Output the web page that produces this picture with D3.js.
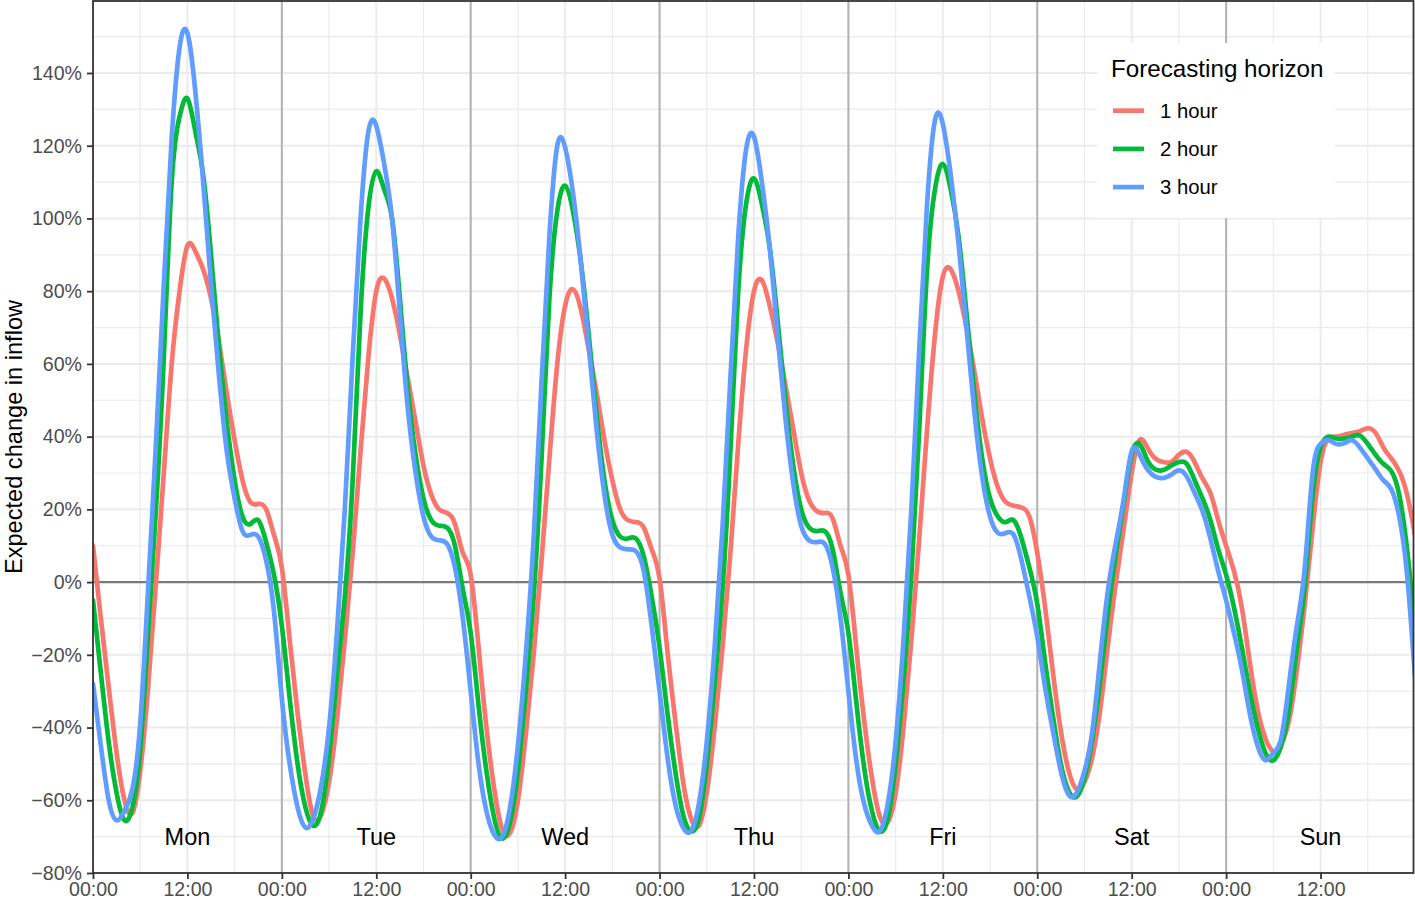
<!DOCTYPE html>
<html><head><meta charset="utf-8">
<script src="https://cdn.jsdelivr.net/npm/d3@7"></script>
<style>
body{margin:0;background:#fff}
svg{display:block}
text{font-family:"Liberation Sans", Arial, Helvetica, sans-serif}
</style>
</head><body>
<svg id="chart" width="1415" height="899"></svg>
<script>
// ---------------- DATA ----------------
const dayLabels = ["Mon", "Tue", "Wed", "Thu", "Fri", "Sat", "Sun"];
const seriesNames = ["1 hour", "2 hour", "3 hour"];
const seriesColors = ["#F8766D", "#00BA38", "#619CFF"];
const legendTitle = "Forecasting horizon";
const yTitle = "Expected change in inflow";
const yTickValues = [-80, -60, -40, -20, 0, 20, 40, 60, 80, 100, 120, 140];
const xTickHours = [0, 12, 24, 36, 48, 60, 72, 84, 96, 108, 120, 132, 144, 156];
const xTickNames = ["00:00", "12:00"];

// hourly values (hour 0 = Monday 00:00), percent change
const hour1 = [
  10, -10, -29, -47, -60, -63.5, -52, -29, 0, 30, 60, 80, 92.5, 91, 86, 78, 66, 52, 39, 28, 22, 21.5, 20, 13,
  4, -16, -36, -53, -64.5, -64, -55, -38, -16, 8, 36, 62, 80, 83.5, 78, 68, 56, 44, 32, 24, 20, 19, 16, 8,
  2, -18, -40, -57, -68, -69, -60, -42, -20, 6, 34, 60, 76, 80.5, 75, 64, 52, 39, 28, 20, 17, 16.5, 15, 9,
  1, -19, -38, -55, -65, -67, -58, -40, -18, 8, 38, 64, 80, 83, 76, 66, 54, 42, 30, 22.5, 19.5, 19, 17.5, 10,
  2, -18, -38, -54, -64.5, -66, -58, -40, -16, 12, 42, 68, 84, 86, 80, 70, 58, 45, 34, 26, 22, 21, 20.5, 18,
  8, -7, -25, -41, -52, -57, -55, -48, -35, -17, 0, 15, 30, 39, 37, 34, 33, 33, 35, 35.8, 33, 28.5, 24.5, 17,
  10, 3, -7, -22, -35, -43, -46.5, -44.5, -38, -24, -6, 15, 33, 39.5, 40, 40.5, 41, 41.5, 42.3, 41, 37, 34, 30.5, 24, 13
];
const hour2 = [
  -5, -25, -44, -58, -65.5, -62, -46, -14, 20, 62, 110, 128, 133, 124, 112, 90, 65, 44, 28, 18, 16, 17, 11, 2,
  -12, -32, -50, -62, -67, -63, -48, -26, -4, 28, 74, 103, 113, 108, 100, 78, 53, 35, 23, 17, 15.5, 15, 10, -2,
  -14, -34, -52, -65, -70.5, -66, -52, -30, -4, 34, 78, 102, 109, 102, 88, 68, 46, 28, 17, 12.5, 12, 12, 7, -4,
  -18, -36, -52, -64, -68.5, -65, -50, -28, -2, 36, 80, 104, 111, 104, 92, 72, 50, 32, 20, 15, 14, 14, 9, -3,
  -14, -33, -51, -63, -68.5, -65, -50, -27, 2, 42, 86, 108, 115, 108, 95, 74, 52, 34, 23, 18, 16.5, 17, 12, 4,
  -6, -22, -37, -50, -57.5, -59, -54, -43, -27, -8, 8, 22, 35, 38, 33.5, 31, 30.8, 32, 33, 32.5, 28, 23, 17, 9,
  2, -7, -18, -30, -40, -47, -49, -45, -35, -18, -1, 24, 37, 40, 39.5, 39.5, 40, 40.3, 38, 35, 32.5, 30.5, 24, 9, -12
];
const hour3 = [
  -28, -45, -60, -65.5, -63, -57, -39, -2, 38, 82, 122, 147, 151, 135, 110, 82, 57, 36, 23, 14, 13, 12.5, 6, -8,
  -32, -50, -62, -67.5, -65, -56, -40, -14, 20, 62, 100, 124, 125.5, 115, 100, 74, 48, 30, 18, 12.5, 11.5, 10.5, 4, -10,
  -30, -50, -63, -69.5, -70, -62, -45, -20, 12, 55, 95, 120, 119.5, 107, 88, 65, 42, 24, 13, 9.5, 9, 8.5, 3, -12,
  -30, -48, -61, -67.5, -68.5, -61, -44, -18, 15, 56, 95, 119, 122.5, 110, 92, 68, 45, 27, 15.5, 11.5, 11, 10.5, 4, -10,
  -30, -49, -61, -67, -68.5, -61, -44, -16, 20, 64, 104, 127, 126, 112, 93, 70, 47, 29, 18, 13.5, 13.5, 13, 6, -4,
  -15, -29, -41, -52, -58.5, -58, -52, -41, -21, -2, 11, 23, 36, 35, 31, 29, 28.6, 29.5, 30.7, 29, 24.5, 19.5, 12, 3,
  -5, -14, -24, -36, -45, -49, -47, -43, -28, -12, 4, 30, 38, 39, 38, 38.2, 39, 37, 34, 31, 28, 25.5, 18, 2, -26
];
const allSeries = [hour1, hour2, hour3];

// ---------------- LAYOUT ----------------
const panel = {left: 93, top: 1, right: 1413.5, bottom: 873};
const svg = d3.select("#chart");

const x = d3.scaleLinear().domain([0, 167.75]).range([panel.left, 1413]);
const y = d3.scaleLinear().domain([-80, 140]).range([873, 73]);

svg.append("defs").append("clipPath").attr("id", "clip")
  .append("rect").attr("x", panel.left).attr("y", panel.top)
  .attr("width", panel.right - panel.left).attr("height", panel.bottom - panel.top);

svg.append("rect").attr("x", panel.left).attr("y", panel.top)
  .attr("width", panel.right - panel.left).attr("height", panel.bottom - panel.top)
  .attr("fill", "#fff");

const grid = svg.append("g").attr("clip-path", "url(#clip)");
const yTop = y.invert(panel.top);
d3.range(-70, yTop, 20).forEach(v => {
  grid.append("line").attr("x1", panel.left).attr("x2", panel.right)
    .attr("y1", y(v)).attr("y2", y(v)).attr("stroke", "#ebebeb").attr("stroke-width", 1.2);
});
d3.range(6, 168, 12).forEach(h => {
  grid.append("line").attr("y1", panel.top).attr("y2", panel.bottom)
    .attr("x1", x(h)).attr("x2", x(h)).attr("stroke", "#ebebeb").attr("stroke-width", 1.2);
});
yTickValues.forEach(v => {
  grid.append("line").attr("x1", panel.left).attr("x2", panel.right)
    .attr("y1", y(v)).attr("y2", y(v)).attr("stroke", "#ebebeb").attr("stroke-width", 2);
});
xTickHours.forEach(h => {
  grid.append("line").attr("y1", panel.top).attr("y2", panel.bottom)
    .attr("x1", x(h)).attr("x2", x(h)).attr("stroke", "#ebebeb").attr("stroke-width", 2);
});
xTickHours.filter(h => h % 24 === 0 && h > 0).forEach(h => {
  grid.append("line").attr("y1", panel.top).attr("y2", panel.bottom)
    .attr("x1", x(h)).attr("x2", x(h)).attr("stroke", "#b3b3b3").attr("stroke-width", 2);
});
grid.append("line").attr("x1", panel.left).attr("x2", panel.right)
  .attr("y1", y(0)).attr("y2", y(0)).attr("stroke", "#7a7a7a").attr("stroke-width", 2.4);

// lines
const line = d3.line().x((d, i) => x(i)).y(d => y(d)).curve(d3.curveNatural);
const lineG = svg.append("g").attr("clip-path", "url(#clip)");
allSeries.forEach((s, k) => {
  lineG.append("path").datum(s).attr("d", line)
    .attr("fill", "none").attr("stroke", seriesColors[k])
    .attr("stroke-width", 4.7).attr("stroke-linejoin", "round").attr("stroke-linecap", "round");
});

// day labels
svg.append("g").selectAll("text").data(dayLabels).join("text")
  .attr("x", (d, i) => x(i * 24 + 12)).attr("y", y(-70))
  .attr("text-anchor", "middle").attr("dominant-baseline", "central")
  .attr("font-size", 23.5).attr("fill", "#000").text(d => d);

// panel border
svg.append("rect").attr("x", panel.left).attr("y", panel.top)
  .attr("width", panel.right - panel.left).attr("height", panel.bottom - panel.top)
  .attr("fill", "none").attr("stroke", "#333").attr("stroke-width", 1.8);

// axes
const fmtY = v => (v < 0 ? "\u2212" + Math.abs(v) : v) + "%";
const yAxis = svg.append("g").attr("transform", `translate(${panel.left},0)`)
  .call(d3.axisLeft(y).tickValues(yTickValues).tickFormat(fmtY).tickSize(6).tickPadding(5));
const xAxis = svg.append("g").attr("transform", `translate(0,${panel.bottom})`)
  .call(d3.axisBottom(x).tickValues(xTickHours).tickFormat(h => xTickNames[(h % 24) / 12]).tickSize(6).tickPadding(4.5));
[yAxis, xAxis].forEach(a => {
  a.select(".domain").remove();
  a.selectAll(".tick line").attr("stroke", "#333").attr("stroke-width", 1.8);
  a.selectAll(".tick text").attr("font-size", 19.6).attr("fill", "#4d4d4d")
    .attr("font-family", "'Liberation Sans', Arial, Helvetica, sans-serif");
});
xAxis.selectAll(".tick text").attr("dy", "0.62em");

// y title
svg.append("text").attr("transform", `translate(22,${(panel.top + panel.bottom) / 2}) rotate(-90)`)
  .attr("text-anchor", "middle").attr("font-size", 23.6).attr("fill", "#000").text(yTitle);

// legend
const lg = svg.append("g");
lg.append("rect").attr("x", 1097).attr("y", 43).attr("width", 238).attr("height", 175).attr("fill", "#fff");
lg.append("text").attr("x", 1111).attr("y", 76.5).attr("font-size", 24.2).attr("fill", "#000").text(legendTitle);
seriesNames.forEach((n, k) => {
  const yy = 110.7 + k * 38.2;
  lg.append("line").attr("x1", 1113).attr("x2", 1144).attr("y1", yy).attr("y2", yy)
    .attr("stroke", seriesColors[k]).attr("stroke-width", 4.7);
  lg.append("text").attr("x", 1160).attr("y", yy).attr("dominant-baseline", "central")
    .attr("font-size", 20.3).attr("fill", "#000").text(n);
});
</script>
</body></html>
